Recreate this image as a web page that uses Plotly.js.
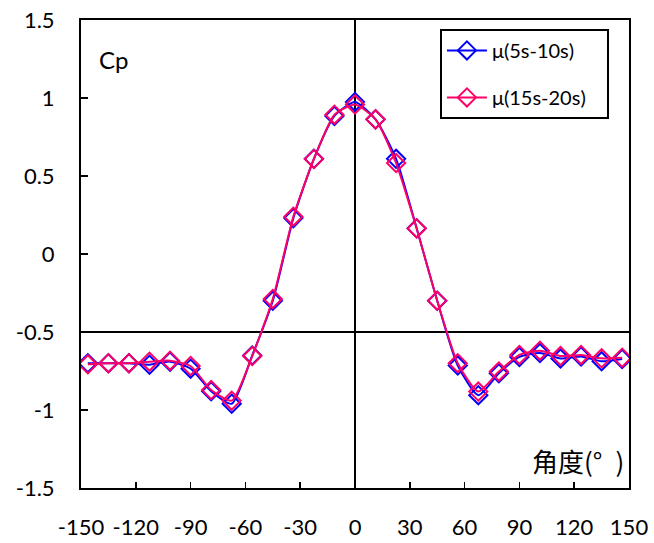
<!DOCTYPE html>
<html>
<head>
<meta charset="utf-8">
<script src="https://cdn.plot.ly/plotly-3.0.1.min.js"></script>
<style>html,body{margin:0;padding:0;background:#fff;}#chart{width:654px;height:543px;}</style>
</head>
<body>
<div id="chart"></div>
<script>
const angles = [-146.25, -135, -123.75, -112.5, -101.25, -90, -78.75, -67.5, -56.25, -45, -33.75, -22.5, -11.25, 0,
  11.25, 22.5, 33.75, 45, 56.25, 67.5, 78.75, 90, 101.25, 112.5, 123.75, 135, 146.25];
const cp5_10 = [-0.70, -0.70, -0.70, -0.71, -0.69, -0.735, -0.88, -0.96, -0.65, -0.30, 0.23, 0.61, 0.885, 0.975,
  0.863, 0.61, 0.165, -0.30, -0.715, -0.905, -0.765, -0.66, -0.635, -0.67, -0.657, -0.688, -0.673];
const cp15_20 = [-0.707, -0.70, -0.70, -0.69, -0.684, -0.718, -0.872, -0.94, -0.654, -0.288, 0.239, 0.609, 0.893, 0.958,
  0.863, 0.583, 0.164, -0.299, -0.70, -0.882, -0.754, -0.647, -0.62, -0.654, -0.647, -0.669, -0.665];
const seriesNames = ['\u03bc(5s-10s)', '\u03bc(15s-20s)'];
const xTicks = [-150, -120, -90, -60, -30, 0, 30, 60, 90, 120, 150];
const yTicks = [-1.5, -1, -0.5, 0, 0.5, 1, 1.5];
const yTickText = ['-1.5', '-1', '-0.5', '0', '0.5', '1', '1.5'];

const font = 'Lato, "Open Sans", sans-serif';

const traces = [
  {x: angles, y: cp5_10, name: seriesNames[0] + '\u00a0\u00a0\u00a0', type: 'scatter', mode: 'lines+markers', legendgroup: 'a',
   line: {color: '#0000FF', width: 2, shape: 'spline', smoothing: 0.6},
   marker: {symbol: 'diamond-open', size: 14, color: '#0000FF', line: {width: 2, color: '#0000FF'}}},
  {x: angles, y: cp15_20, name: seriesNames[1] + '\u00a0\u00a0\u00a0', type: 'scatter', mode: 'lines+markers', legendgroup: 'b',
   line: {color: '#FF0066', width: 2, shape: 'spline', smoothing: 0.6},
   marker: {symbol: 'diamond-open', size: 14, color: '#FF0066', line: {width: 2, color: '#FF0066'}}}
];

const layout = {
  width: 654, height: 543,
  margin: {l: 81, r: 25, t: 20, b: 55},
  paper_bgcolor: '#fff', plot_bgcolor: '#fff',
  font: {family: font, size: 22, color: '#000'},
  showlegend: true,
  legend: {x: 0.655, y: 0.981, xanchor: 'left', yanchor: 'top', bgcolor: '#fff', bordercolor: '#000', borderwidth: 2,
    font: {family: font, size: 20, color: '#000'}, tracegroupgap: 18, itemwidth: 40},
  xaxis: {range: [-150, 150], tickvals: xTicks, ticktext: xTicks.map(String), ticks: 'inside', ticklen: 6, tickwidth: 1.5,
    tickcolor: '#000', showline: true, linecolor: '#000', linewidth: 2, mirror: true, showgrid: false,
    zeroline: true, zerolinecolor: '#000', zerolinewidth: 2, ticklabelstandoff: 19,
    tickfont: {family: font, size: 22, color: '#000'}},
  yaxis: {range: [-1.5, 1.5], tickvals: yTicks, ticktext: yTickText, ticks: 'inside', ticklen: 7, tickwidth: 1.5,
    tickcolor: '#000', showline: true, linecolor: '#000', linewidth: 2, mirror: true, showgrid: false,
    zeroline: false, ticklabelstandoff: 20, tickfont: {family: font, size: 22, color: '#000'}},
  shapes: [{type: 'line', xref: 'paper', yref: 'y', x0: 0, x1: 1, y0: -0.5, y1: -0.5, layer: 'below',
    line: {color: '#000', width: 2}}],
  annotations: [
    {text: 'Cp', xref: 'paper', yref: 'paper', x: 0.03, y: 0.915, xanchor: 'left', yanchor: 'middle', showarrow: false,
     font: {family: font, size: 24, color: '#000'}},
    {text: '角度(°\u2002)', xref: 'paper', yref: 'paper', x: 0.995, y: 0.058, xanchor: 'right', yanchor: 'middle', showarrow: false,
     font: {family: '"Noto Sans CJK SC", Lato, sans-serif', size: 26, color: '#000'}}
  ]
};

Plotly.newPlot('chart', traces, layout, {displayModeBar: false, staticPlot: true});
</script>
</body>
</html>
